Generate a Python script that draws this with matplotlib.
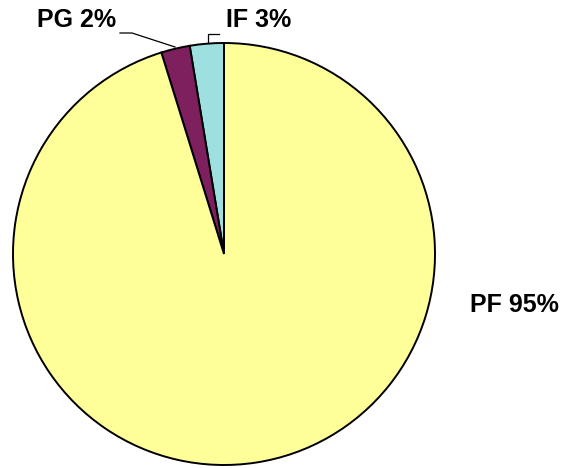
import matplotlib
matplotlib.use("Agg")
import matplotlib.pyplot as plt

# slice data, counter-clockwise from 12 o'clock
labels = ["IF", "PG", "PF"]
values = [2.6, 2.2, 95.2]
colors = ["#9EDFE0", "#7E1F5E", "#FFFF99"]

W, H = 565, 468
fig = plt.figure(figsize=(W / 100, H / 100), dpi=100)
ax = fig.add_axes([0, 0, 1, 1])
ax.set_xlim(0, W); ax.set_ylim(0, H); ax.axis("off")
ax.set_aspect("equal")

cx, cy, r = 224, H - 254, 211
ax.pie(values, colors=colors, startangle=90, counterclock=True,
       center=(cx, cy), radius=r, frame=True,
       wedgeprops=dict(edgecolor="black", linewidth=1.4))
ax.set_xlim(0, W); ax.set_ylim(0, H); ax.axis("off")

txt = [f"{l} {round(v):d}%" for l, v in zip(labels, values)]
kw = dict(fontsize=18, fontweight="bold", family=["Liberation Sans", "DejaVu Sans"], va="center")
ax.text(226, H - 20, txt[0], ha="left", **kw)
ax.text(37, H - 20, txt[1], ha="left", **kw)
ax.text(470, H - 305, txt[2], ha="left", **kw)

# leader lines
ax.plot([120, 132, 175], [H - 33, H - 33, H - 47], color="black", lw=0.9)
ax.plot([208, 208, 219], [H - 43, H - 34, H - 34], color="black", lw=0.9)

fig.savefig("out.png", dpi=100, facecolor="white")
